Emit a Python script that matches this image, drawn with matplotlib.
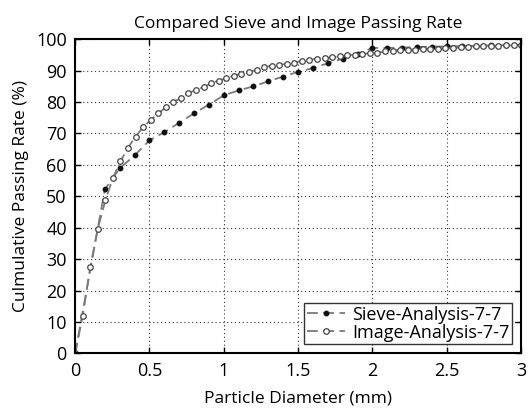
import numpy as np
import matplotlib
matplotlib.use("Agg")
import matplotlib.pyplot as plt

plt.rcParams['font.family'] = ['Open Sans', 'DejaVu Sans']

# sieve analysis data (mm, %)
sieve_d = [0, 0.2, 0.3, 0.4, 0.5, 0.6, 0.7, 0.8, 0.9, 1.0, 1.1, 1.2, 1.3, 1.4,
           1.5, 1.6, 1.7, 1.8, 1.9, 2.0, 2.1, 2.2, 2.3, 2.4, 2.5, 2.6, 2.7,
           2.8, 2.9, 3.0]
sieve_p = [0, 52.2, 58.9, 63.0, 67.8, 70.4, 73.4, 76.4, 79.2, 82.1, 83.7, 85.0,
           86.6, 88.1, 89.6, 90.8, 92.3, 93.8, 95.3, 97.2, 97.2, 97.3, 97.5,
           97.6, 97.7, 97.8, 97.9, 98.0, 98.1, 98.2]

# image analysis data, 60 points evenly spaced 0..3 mm
image_d = np.linspace(0, 3, 60)
image_p = [0, 11.9, 27.4, 39.7, 48.7, 55.9, 61.1, 65.5, 69.0, 72.0,
           74.3, 76.4, 78.3, 79.9, 81.3, 82.8, 83.9, 84.7, 86.0, 86.8,
           87.6, 88.4, 89.0, 89.5, 90.2, 91.0, 91.6, 91.9, 92.1, 92.5,
           93.0, 93.4, 93.8, 94.0, 94.2, 94.5, 94.8, 95.1, 95.3, 95.5,
           95.6, 96.1, 96.3, 96.6, 96.6, 96.7, 96.8, 96.9, 96.9, 97.1,
           97.1, 97.4, 97.6, 97.8, 97.8, 97.7, 97.8, 98.0, 98.0, 98.0]

fig = plt.figure(figsize=(5.29, 4.12), dpi=100)
ax = fig.add_axes([0.142, 0.142, 0.843, 0.763])

ax.plot(sieve_d, sieve_p, color='#7a7a7a', linestyle='--', dashes=(6, 3),
        linewidth=1.3, marker='o', markersize=3.2, markerfacecolor='#111111',
        markeredgecolor='#111111', label='Sieve-Analysis-7-7')
ax.plot(image_d, image_p, color='#7a7a7a', linestyle='--', dashes=(6, 3),
        linewidth=1.3, marker='o', markersize=4, markerfacecolor='white',
        markeredgecolor='#444444', markeredgewidth=0.9,
        label='Image-Analysis-7-7')

ax.set_xlim(0, 3)
ax.set_ylim(0, 100)
ax.set_xticks(np.arange(0, 3.01, 0.5))
ax.set_xticklabels(['0', '0.5', '1', '1.5', '2', '2.5', '3'])
ax.set_yticks(np.arange(0, 101, 10))
ax.grid(True, linestyle=(0, (1, 2.5)), color='#333333', linewidth=0.8)
ax.tick_params(direction='in', top=True, right=True, length=4, width=1,
               labelsize=13)
ax.tick_params(axis='x', pad=6)
ax.tick_params(axis='y', pad=6)
for s in ax.spines.values():
    s.set_linewidth(1.5)

ax.set_title('Compared Sieve and Image Passing Rate', fontsize=12.5, pad=8)
ax.set_xlabel('Particle Diameter (mm)', fontsize=12.5, labelpad=8)
ax.set_ylabel('Culmulative Passing Rate (%)', fontsize=12.5, labelpad=5)

leg = ax.legend(loc='lower right', fontsize=13, fancybox=False,
                framealpha=1, edgecolor='#333333', handlelength=2.1,
                borderpad=0.15, labelspacing=0.0, handletextpad=0.4,
                borderaxespad=0.5)
leg.get_frame().set_linewidth(1.0)

fig.savefig('out.png', dpi=100)
